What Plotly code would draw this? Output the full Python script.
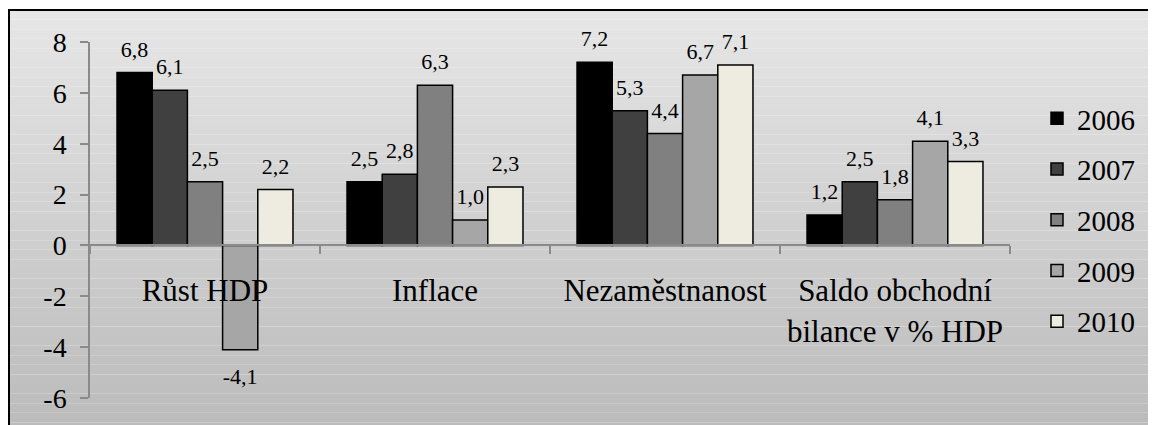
import plotly.graph_objects as go

categories = ["Růst HDP", "Inflace", "Nezaměstnanost", "Saldo obchodní<br>bilance v % HDP"]
years = ["2006", "2007", "2008", "2009", "2010"]
v2006 = [6.8, 2.5, 7.2, 1.2]
v2007 = [6.1, 2.8, 5.3, 2.5]
v2008 = [2.5, 6.3, 4.4, 1.8]
v2009 = [-4.1, 1.0, 6.7, 4.1]
v2010 = [2.2, 2.3, 7.1, 3.3]
series = [v2006, v2007, v2008, v2009, v2010]
colors = ["#000000", "#404040", "#808080", "#a6a6a6", "#eeece1"]
ytick_vals = [-6, -4, -2, 0, 2, 4, 6, 8]
ytick_text = ["-6", "-4", "-2", "0", "2", "4", "6", "8"]

FONT = "Times New Roman, Liberation Serif, serif"
OFF = 8  # page body margin offset
W, H = 1156 - OFF, 425 - OFF
ML, MT = 90 - OFF, 42 - OFF
PW, PH = 920, 356
MR, MB = W - ML - PW, H - MT - PH


def px_x(px):
    return (px - OFF - ML) / PW


def px_y(py):
    return (MT + PH - (py - OFF)) / PH


fig = go.Figure()

for yr, vals, col in zip(years, series, colors):
    fig.add_trace(go.Bar(
        x=categories, y=vals, name=yr, legendgroup=yr,
        marker=dict(color=col, line=dict(color="black", width=1.5)),
        hoverinfo="skip",
    ))

for yr, vals in zip(years, series):
    fig.add_trace(go.Scatter(
        x=categories, y=vals, mode="markers+text", showlegend=False,
        text=[f"{v:.1f}".replace(".", ",") for v in vals],
        textposition=["top center" if v >= 0 else "bottom center" for v in vals],
        marker=dict(size=[15 if v >= 0 else 27 for v in vals], opacity=0),
        textfont=dict(family=FONT, size=22, color="black"),
        cliponaxis=False, hoverinfo="skip",
    ))

# background gradient + border
shapes = []
n = 44
top_px, bot_px = 10, 432
for i in range(n):
    y0p = top_px + (bot_px - top_px) * i / n
    y1p = top_px + (bot_px - top_px) * (i + 1) / n
    t = (i + 0.5) / n
    c = int(round(231 - (231 - 186) * t))
    shapes.append(dict(type="rect", xref="paper", yref="paper", layer="below",
                       x0=px_x(8), x1=px_x(1170), y0=px_y(y1p), y1=px_y(y0p),
                       fillcolor=f"rgb({c},{c},{c})", line=dict(width=0)))
shapes.append(dict(type="rect", xref="paper", yref="paper", layer="below",
                   x0=px_x(9), x1=px_x(1180), y0=px_y(440), y1=px_y(10),
                   fillcolor="rgba(0,0,0,0)", line=dict(color="black", width=2)))

axis_gray = "#8a8a8a"
fig.update_layout(
    width=W, height=H,
    margin=dict(l=ML, r=MR, t=MT, b=MB, pad=0, autoexpand=False),
    paper_bgcolor="white", plot_bgcolor="rgba(0,0,0,0)",
    barmode="group", bargap=0.235, bargroupgap=0,
    scattermode="group", scattergap=0.235,
    shapes=shapes,
    font=dict(family=FONT, color="black"),
    xaxis=dict(type="category", anchor="free", position=6 / 14,
               showline=True, linecolor=axis_gray, linewidth=1.5,
               ticks="outside", tickson="boundaries", ticklen=8,
               tickcolor=axis_gray, tickwidth=1.5,
               tickfont=dict(family=FONT, size=31, color="black"),
               ticklabelstandoff=18, automargin=False,
               showgrid=False, zeroline=False, range=[-0.5, 3.5]),
    yaxis=dict(range=[-6, 8], tickvals=ytick_vals, ticktext=ytick_text,
               showline=True, linecolor=axis_gray, linewidth=1.5,
               ticks="outside", ticklen=8, tickcolor=axis_gray, tickwidth=1.5,
               tickfont=dict(family=FONT, size=28, color="black"),
               ticklabelstandoff=8, automargin=False,
               showgrid=False, zeroline=False),
    legend=dict(x=px_x(1037), xanchor="left", y=0.5, yanchor="middle",
                font=dict(family=FONT, size=29, color="black"),
                bgcolor="rgba(0,0,0,0)", tracegroupgap=10, itemwidth=30),
    showlegend=True,
)

fig.write_html("out.html")
